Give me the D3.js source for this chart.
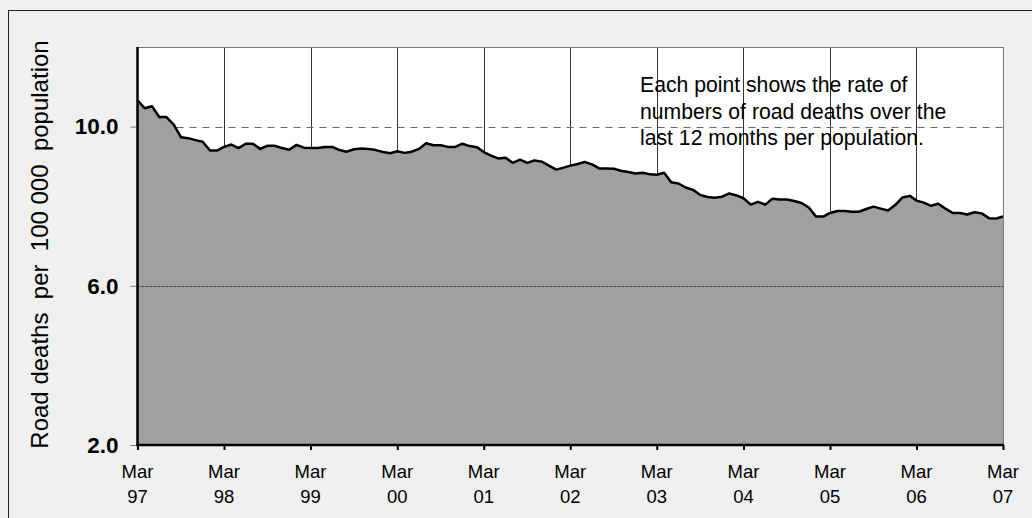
<!DOCTYPE html>
<html>
<head>
<meta charset="utf-8">
<script src="https://cdn.jsdelivr.net/npm/d3@7"></script>
<style>
  html, body { margin: 0; padding: 0; background: #f0f0f0; }
  svg { display: block; }
  text { font-family: Arial, "Liberation Sans", sans-serif; }
</style>
</head>
<body>
<svg id="chart" width="1032" height="518"></svg>
<script>
// ---- data ----
const startMonth = "1997-03";
const rates = [
  10.66, 10.46, 10.51, 10.24, 10.24, 10.05, 9.73, 9.71, 9.66, 9.62, 9.40, 9.40,
  9.49, 9.55, 9.46, 9.57, 9.57, 9.44, 9.52, 9.52, 9.46, 9.42, 9.54, 9.47,
  9.46, 9.46, 9.49, 9.49, 9.41, 9.37, 9.43, 9.45, 9.44, 9.41, 9.36, 9.33,
  9.38, 9.34, 9.37, 9.44, 9.58, 9.53, 9.53, 9.49, 9.49, 9.57, 9.51, 9.48,
  9.36, 9.27, 9.20, 9.22, 9.09, 9.17, 9.09, 9.15, 9.12, 9.02, 8.92, 8.97,
  9.02, 9.06, 9.11, 9.05, 8.95, 8.95, 8.94, 8.89, 8.86, 8.82, 8.84, 8.80,
  8.79, 8.84, 8.60, 8.57, 8.47, 8.41, 8.28, 8.23, 8.21, 8.24, 8.32, 8.27,
  8.20, 8.04, 8.11, 8.04, 8.19, 8.17, 8.17, 8.13, 8.08, 7.97, 7.74, 7.74,
  7.83, 7.88, 7.88, 7.86, 7.86, 7.93, 7.99, 7.94, 7.89, 8.03, 8.22, 8.26,
  8.14, 8.09, 8.01, 8.06, 7.94, 7.83, 7.83, 7.79, 7.85, 7.82, 7.70, 7.69,
  7.74
];
const yTicks = [2.0, 6.0, 10.0];
const yDomain = [2, 12];
const xTickMonth = "Mar";
const xTickYears = ["97","98","99","00","01","02","03","04","05","06","07"];
const yTitle = "Road deaths  per  100 000  population";
const note = ["Each point shows the rate of", "numbers of road deaths over the", "last 12 months per population."];

// ---- build ----
const parse = d3.timeParse("%Y-%m");
const t0 = parse(startMonth);
const data = rates.map((v, i) => ({ date: d3.timeMonth.offset(t0, i), v }));
const tickDates = xTickYears.map((y, i) => d3.timeMonth.offset(t0, 12 * i));

const svg = d3.select("#chart");
const L = 137.5, R = 1003, T = 47, B = 445;

const x = d3.scaleTime().domain([data[0].date, data[data.length - 1].date]).range([L, R]);
const y = d3.scaleLinear().domain(yDomain).range([B, T]);

// outer frame
svg.append("rect").attr("x", 8.5).attr("y", 10.5).attr("width", 1040).attr("height", 530)
  .attr("fill", "#f0f0f0").attr("stroke", "#222").attr("stroke-width", 1);

// plot background
svg.append("rect").attr("x", L).attr("y", T).attr("width", R - L).attr("height", B - T)
  .attr("fill", "#ffffff");

// vertical gridlines (under area)
svg.append("g").selectAll("line").data(tickDates.slice(1, -1)).join("line")
  .attr("x1", d => Math.round(x(d)) + 0.5).attr("x2", d => Math.round(x(d)) + 0.5)
  .attr("y1", T).attr("y2", B)
  .attr("stroke", "#333").attr("stroke-width", 1);

// dashed gridline at 10
svg.append("line").attr("x1", L).attr("x2", R)
  .attr("y1", Math.round(y(10)) + 0.5).attr("y2", Math.round(y(10)) + 0.5)
  .attr("stroke", "#666").attr("stroke-width", 1).attr("stroke-dasharray", "7,6");

// area
const area = d3.area().x(d => x(d.date)).y0(y(yDomain[0])).y1(d => y(d.v));
svg.append("path").datum(data).attr("d", area).attr("fill", "#a0a0a0");

// gridline at 6 (over area)
svg.append("line").attr("x1", L).attr("x2", R)
  .attr("y1", Math.round(y(6)) + 0.5).attr("y2", Math.round(y(6)) + 0.5)
  .attr("stroke", "#444").attr("stroke-width", 1).attr("stroke-dasharray", "3,1");

// line
const line = d3.line().x(d => x(d.date)).y(d => y(d.v));
svg.append("path").datum(data).attr("d", line).attr("fill", "none")
  .attr("stroke", "#000").attr("stroke-width", 2.5).attr("stroke-linejoin", "round");

// plot border top/right
svg.append("path").attr("d", `M${L},${T + 0.5}H${R + 0.5}V${B}`)
  .attr("fill", "none").attr("stroke", "#777").attr("stroke-width", 1);

// y axis
const yAxis = d3.axisLeft(y).tickValues(yTicks).tickFormat(d3.format(".1f")).tickSize(7).tickPadding(12);
const gy = svg.append("g").attr("transform", `translate(${L},0)`).call(yAxis);
gy.select(".domain").remove();
gy.selectAll(".tick line").attr("stroke", "#777");
gy.selectAll(".tick text").attr("font-size", 22.5).attr("font-weight", "bold").attr("fill", "#000")
  .attr("font-family", "Arial, 'Liberation Sans', sans-serif");
svg.append("line").attr("x1", L).attr("x2", L).attr("y1", T).attr("y2", B + 1)
  .attr("stroke", "#000").attr("stroke-width", 2.5);

// x axis
const xAxis = d3.axisBottom(x).tickValues(tickDates).tickSize(5).tickFormat("");
const gx = svg.append("g").attr("transform", `translate(0,${B})`).call(xAxis);
gx.select(".domain").remove();
gx.selectAll(".tick line").attr("stroke", "#000").attr("stroke-width", 2);
svg.append("line").attr("x1", L - 1).attr("x2", R + 1).attr("y1", B).attr("y2", B)
  .attr("stroke", "#000").attr("stroke-width", 2.5);

const lbl = svg.append("g").selectAll("text").data(tickDates).join("text")
  .attr("text-anchor", "middle").attr("font-size", 18.5).attr("fill", "#000")
  .attr("transform", d => `translate(${x(d)},0)`);
lbl.append("tspan").attr("x", 0).attr("y", 478).text(xTickMonth);
lbl.append("tspan").attr("x", 0).attr("y", 503).text((d, i) => xTickYears[i]);

// y title
svg.append("text").attr("transform", `translate(48,${(447 + 42) / 2}) rotate(-90)`)
  .attr("text-anchor", "middle").attr("font-size", 24).attr("fill", "#000")
  .attr("xml:space", "preserve").style("white-space", "pre")
  .text(yTitle);

// note
svg.append("g").selectAll("text").data(note).join("text")
  .attr("x", 640).attr("y", (d, i) => 92 + i * 26.5)
  .attr("font-size", 21.2).attr("fill", "#000").text(d => d);
</script>
</body>
</html>
